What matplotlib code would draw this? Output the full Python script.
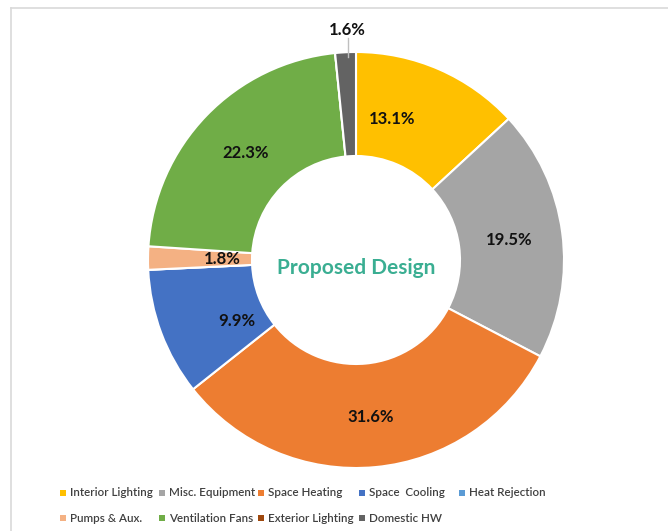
import matplotlib
matplotlib.use("Agg")
import matplotlib.pyplot as plt
import numpy as np
from matplotlib.patches import Rectangle
from matplotlib.lines import Line2D

categories = ["Interior Lighting", "Misc. Equipment", "Space Heating", "Space  Cooling",
              "Heat Rejection", "Pumps & Aux.", "Ventilation Fans", "Exterior Lighting",
              "Domestic HW"]
values = [13.1, 19.5, 31.6, 9.9, 0.0, 1.8, 22.3, 0.0, 1.6]
colors = ["#FFC000", "#A5A5A5", "#ED7D31", "#4472C4", "#5B9BD5",
          "#F4B183", "#70AD47", "#9E480E", "#636363"]
center_title = "Proposed Design"

plt.rcParams['font.family'] = ['Lato', 'DejaVu Sans']

W, H = 668, 531
fig = plt.figure(figsize=(W / 100, H / 100), dpi=100)

# chart border (light gray frame)
fig.add_artist(Line2D([11 / W, 11 / W], [0, 1 - 8 / H], color="#D9D9D9", lw=1.2))
fig.add_artist(Line2D([11 / W, 1], [1 - 8 / H, 1 - 8 / H], color="#D9D9D9", lw=1.2))

cx, cy, R = 356, 260, 208
ax = fig.add_axes([(cx - R) / W, (H - cy - R) / H, 2 * R / W, 2 * R / H])
wedges, _ = ax.pie(values, colors=colors, startangle=90, counterclock=False,
                   radius=1.0, wedgeprops=dict(width=0.5, edgecolor="white", linewidth=1.5))
ax.set_xlim(-1, 1)
ax.set_ylim(-1, 1)
ax.set_aspect("equal")
ax.axis("off")

# (radius, angular offset in degrees) for label placement
label_pos = {0: (0.70, 9.4), 1: (0.745, 0), 2: (0.76, 0), 3: (0.645, 6.4),
             5: (0.645, 0), 6: (0.74, 0)}
LFS = 12
for i, (w, v) in enumerate(zip(wedges, values)):
    if v <= 0:
        continue
    txt = f"{v:.1f}%"
    if i == 8:
        xl = -0.04
        ax.plot([xl, xl], [0.975, 1.065], color="#BFBFBF", lw=1, clip_on=False)
        ax.text(xl, 1.105, txt, ha="center", va="center", fontsize=LFS,
                fontweight="bold", color="#111111", clip_on=False)
        continue
    r, off = label_pos.get(i, (0.74, 0))
    mid = np.deg2rad((w.theta1 + w.theta2) / 2 + off)
    ax.text(np.cos(mid) * r, np.sin(mid) * r, txt, ha="center", va="center",
            fontsize=LFS, fontweight="bold", color="#111111")

ax.text(0, -0.04, center_title, ha="center", va="center", fontsize=15,
        fontweight="bold", color="#3AAE92")

# legend (row-major, 5 columns)
col_x = [63, 162, 261, 362, 462]
row_y = [493, 518]
for i, (lab, c) in enumerate(zip(categories, colors)):
    col, row = i % 5, i // 5
    mx, my = col_x[col], row_y[row]
    fig.add_artist(Rectangle(((mx - 3) / W, 1 - (my + 3) / H), 6 / W, 6 / H,
                             facecolor=c, edgecolor="none"))
    fig.text((mx + 7) / W, 1 - my / H, lab, ha="left", va="center",
             fontsize=8.4, color="#404040", fontweight="semibold")

fig.savefig("out.png", dpi=100)
